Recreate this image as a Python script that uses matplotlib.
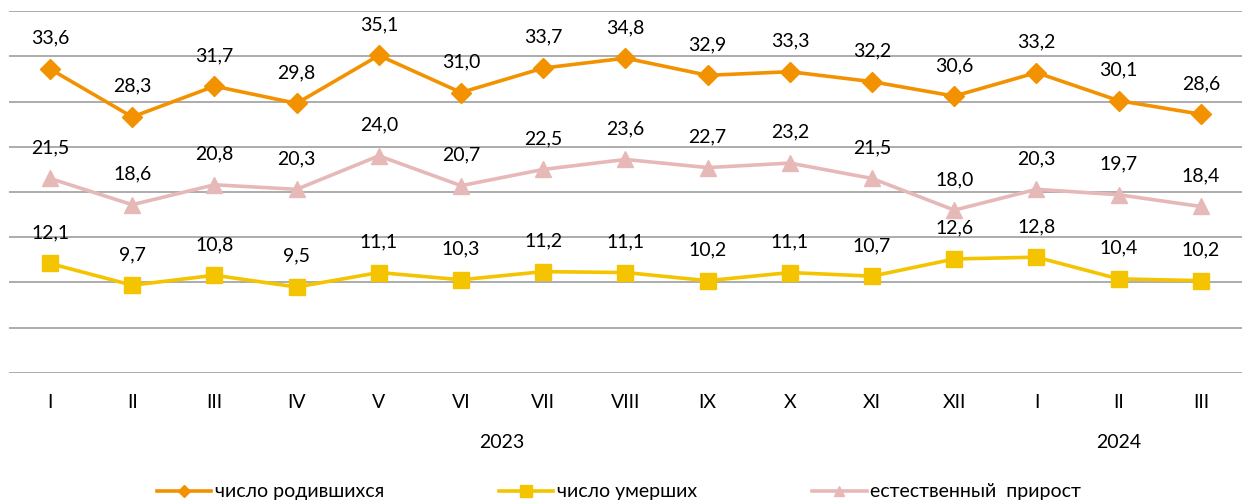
import matplotlib
matplotlib.use("Agg")
import matplotlib.pyplot as plt
from matplotlib.lines import Line2D
import matplotlib.transforms as mtransforms

plt.rcParams['font.family'] = ['Lato', 'DejaVu Sans']

months = ['I', 'II', 'III', 'IV', 'V', 'VI', 'VII', 'VIII', 'IX', 'X', 'XI', 'XII', 'I', 'II', 'III']
years = ['2023', '2024']
year_span = [(0, 11), (12, 14)]

births = [33.6, 28.3, 31.7, 29.8, 35.1, 31.0, 33.7, 34.8, 32.9, 33.3, 32.2, 30.6, 33.2, 30.1, 28.6]
deaths = [12.1, 9.7, 10.8, 9.5, 11.1, 10.3, 11.2, 11.1, 10.2, 11.1, 10.7, 12.6, 12.8, 10.4, 10.2]
growth = [21.5, 18.6, 20.8, 20.3, 24.0, 20.7, 22.5, 23.6, 22.7, 23.2, 21.5, 18.0, 20.3, 19.7, 18.4]

labels = ['число родившихся', 'число умерших', 'естественный  прирост']
colors = ['#F39200', '#F5C400', '#E6B9B8']
markers = ['D', 's', '^']
msizes = [10, 12, 11]
leg_msizes = [6, 8, 7]

fig = plt.figure(figsize=(12.42, 5.04), dpi=100)
ax = fig.add_axes([0.0072, 0.26, 0.9928, 0.718])

x = list(range(len(months)))
series = [births, deaths, growth]
for vals, c, m, ms in zip(series, colors, markers, msizes):
    ax.plot(x, vals, color=c, lw=2.6, marker=m, markersize=ms, zorder=3)
    for xi, v in zip(x, vals):
        ax.annotate(f"{v:.1f}".replace('.', ','), (xi, v), xytext=(0, 16),
                    textcoords='offset points', ha='center', va='bottom',
                    fontsize=14, color='#000000', zorder=4)

ax.set_ylim(0, 40)
ax.set_xlim(-0.5, len(months) - 0.5)
ax.set_yticks(range(0, 41, 5))
ax.yaxis.grid(True, color='#A6A6A6', lw=1.3)
ax.set_axisbelow(True)
ax.tick_params(axis='y', left=False, labelleft=False)
ax.set_xticks(x)
ax.set_xticklabels(months, fontsize=14)
ax.tick_params(axis='x', length=0, pad=15)
for s in ax.spines.values():
    s.set_visible(False)

trans = mtransforms.blended_transform_factory(ax.transData, fig.transFigure)
for yr, (a, b) in zip(years, year_span):
    ax.text((a + b) / 2, 1 - 443 / 504, yr, transform=trans, ha='center', va='center', fontsize=14)

handles = [Line2D([0], [0], color=c, lw=2.6, marker=m, markersize=ms)
           for c, m, ms in zip(colors, markers, leg_msizes)]
fig.legend(handles, labels, loc='center', bbox_to_anchor=(619 / 1242, 1 - 492 / 504), ncol=3,
           frameon=False, fontsize=14, handlelength=2.8, handletextpad=0.2,
           columnspacing=5.9)

fig.savefig('out.png', dpi=100)
